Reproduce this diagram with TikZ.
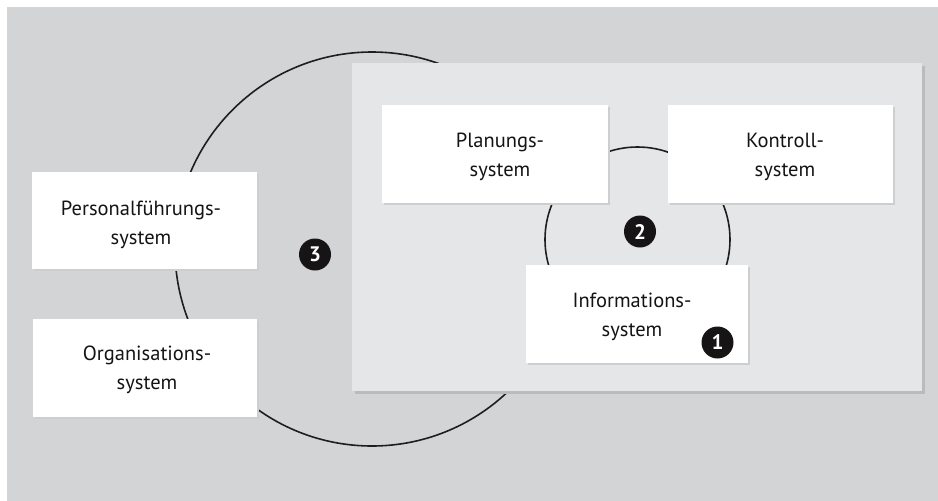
\documentclass[tikz,border=0pt]{standalone}
\usepackage{fontspec}
\setmainfont{PT Sans}
\usetikzlibrary{shadows}
\definecolor{bggray}{RGB}{211,212,214}
\definecolor{panelgray}{RGB}{229,230,232}
\definecolor{panelshadow}{RGB}{186,187,189}
\definecolor{boxshadow}{RGB}{205,206,208}
\definecolor{ringcol}{RGB}{30,30,30}
\definecolor{badgecol}{RGB}{22,20,20}
\tikzset{
  ring/.style={draw=ringcol, line width=1.6pt},
  panelbox/.style={fill=panelgray, draw=none, general shadow={fill=panelshadow, shadow xshift=3pt, shadow yshift=-3pt}},
  sysbox/.style={fill=white, draw=none, inner sep=0pt, general shadow={fill=boxshadow, shadow xshift=2pt, shadow yshift=-2pt}},
  lbl/.style={align=center, font=\fontsize{20.5}{29}\selectfont, text=black!92, inner sep=0pt},
  badge/.style={circle, fill=badgecol, text=white, minimum size=32pt, inner sep=0pt, font=\fontsize{21}{21}\selectfont\bfseries},
}
\begin{document}
\begin{tikzpicture}[x=1pt,y=-1pt]
\useasboundingbox (0,0) rectangle (938,501);
\fill[white] (0,0) rectangle (938,501);
\fill[bggray] (7,7) rectangle (938,501);
% large ring
\coordinate (bigc) at (372,249);
\draw[ring] (bigc) circle[radius=197];
% panel
\path[panelbox] (352,63) rectangle (922,391);
\coordinate (panel) at (637,227);
% left boxes
\path[sysbox] (32,172) rectangle (257,269);
\coordinate (pers) at (144.5,220.5);
\node[lbl] (perst) at (141,225) {Personalführungs-\\system};
\path[sysbox] (33,319) rectangle (257,417);
\coordinate (orga) at (145,368);
\node[lbl] (orgat) at (147,370) {Organisations-\\system};
% small ring
\coordinate (smallc) at (637.5,239.5);
\draw[ring] (smallc) circle[radius=92.5];
% inner boxes
\path[sysbox] (382,105) rectangle (608,203);
\coordinate (plan) at (495,154);
\node[lbl] (plant) at (500,157) {Planungs-\\system};
\path[sysbox] (668,105) rectangle (893,203);
\coordinate (kontr) at (780.5,154);
\node[lbl] (kontrt) at (785,157) {Kontroll-\\system};
\path[sysbox] (526,265) rectangle (748,363);
\coordinate (info) at (637,314);
\node[lbl] (infot) at (632,317) {Informations-\\system};
% badges
\node[badge] (b1) at (717.5,342.5) {1};
\node[badge] (b2) at (640,231.5) {2};
\node[badge] (b3) at (315,254.5) {3};
\end{tikzpicture}
\end{document}
